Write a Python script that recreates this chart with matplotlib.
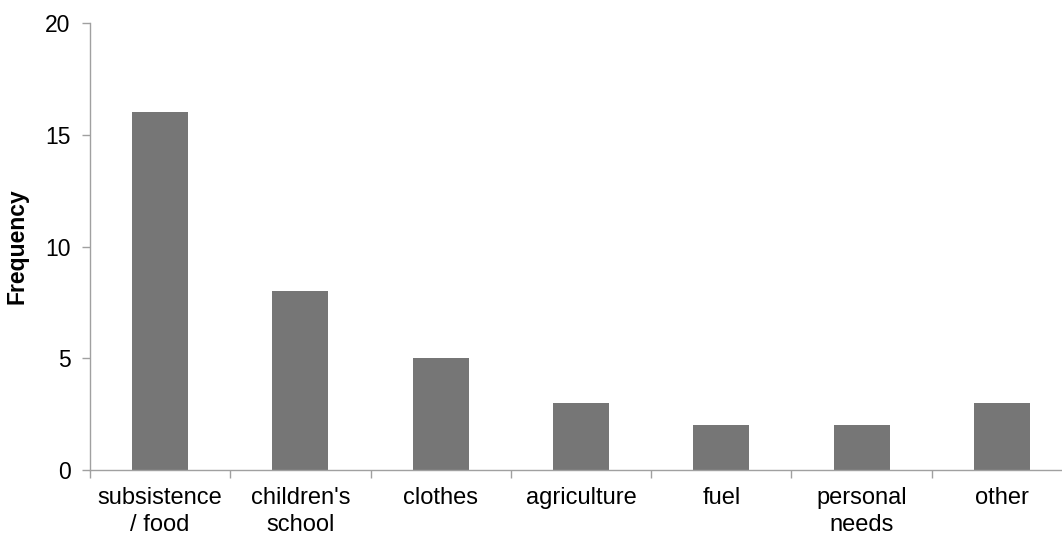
import matplotlib
matplotlib.use("Agg")
import matplotlib.pyplot as plt
import numpy as np

categories = ["subsistence\n/ food", "children's\nschool", "clothes", "agriculture", "fuel", "personal\nneeds", "other"]
values = [16, 8, 5, 3, 2, 2, 3]
yticks = [0, 5, 10, 15, 20]

plt.rcParams['font.family'] = ['Liberation Sans', 'DejaVu Sans']
fig = plt.figure(figsize=(10.62, 5.38), dpi=100)
ax = fig.add_axes([90/1062, 68/538, 982/1062, 447/538])

x = np.arange(len(categories))
ax.bar(x, values, width=0.4, color='#767676', zorder=2)
ax.set_xlim(-0.5, len(categories) - 0.5)
ax.set_ylim(0, 20)
ax.set_yticks(yticks)
ax.set_xticks(x)
ax.set_xticklabels(categories, fontsize=17, linespacing=1.3)
ax.set_xticks(np.arange(len(categories)) - 0.5, minor=True)
ax.tick_params(axis='x', which='major', length=0, pad=12)
ax.tick_params(axis='x', which='minor', length=6, color='#a0a0a0', width=1)
ax.tick_params(axis='y', length=6, color='#a0a0a0', width=1, labelsize=16.5, pad=8)
for s in ['top', 'right']:
    ax.spines[s].set_visible(False)
for s in ['left', 'bottom']:
    ax.spines[s].set_color('#a0a0a0')
    ax.spines[s].set_linewidth(1)
ax.set_ylabel('Frequency', fontsize=16.5, fontweight='bold', labelpad=12)
fig.savefig('out.png', dpi=100)
